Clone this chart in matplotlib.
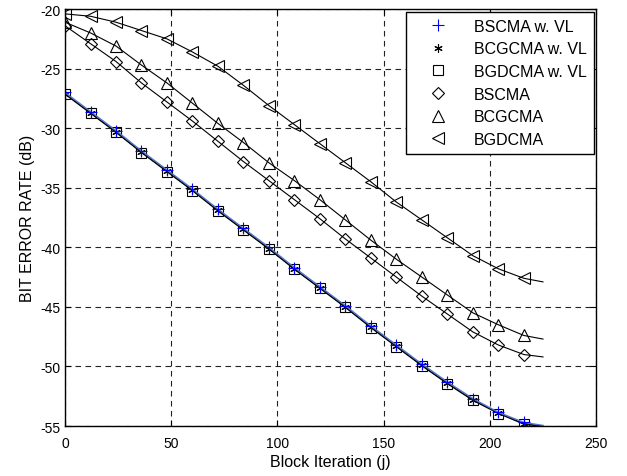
import matplotlib
matplotlib.use("Agg")
import matplotlib.pyplot as plt
from matplotlib.lines import Line2D

plt.rcParams['font.family'] = ['Liberation Sans', 'DejaVu Sans']
plt.rcParams['axes.unicode_minus'] = False

iters = [0, 12, 24, 36, 48, 60, 72, 84, 96, 108, 120, 132, 144, 156, 168, 180, 192, 204, 216, 225]

bscma_vl = [-27.0, -28.6, -30.2, -31.9, -33.5, -35.1, -36.8, -38.4, -40.0, -41.7, -43.3, -44.9, -46.6, -48.2, -49.8, -51.3, -52.7, -53.85, -54.7, -54.95]
bcgcma_vl = [-27.1, -28.7, -30.3, -32.0, -33.6, -35.2, -36.9, -38.5, -40.1, -41.8, -43.4, -45.0, -46.7, -48.3, -49.9, -51.4, -52.8, -53.9, -54.8, -55.0]
bgdcma_vl = [-27.15, -28.75, -30.35, -32.05, -33.65, -35.25, -36.95, -38.55, -40.15, -41.85, -43.45, -45.05, -46.75, -48.35, -49.95, -51.45, -52.85, -53.95, -54.85, -55.05]
bscma = [-21.4, -22.9, -24.4, -26.2, -27.8, -29.4, -31.1, -32.8, -34.4, -36.0, -37.6, -39.3, -40.9, -42.5, -44.1, -45.6, -47.1, -48.2, -49.0, -49.2]
bcgcma = [-21.1, -22.0, -23.1, -24.7, -26.2, -27.9, -29.6, -31.2, -32.9, -34.4, -36.0, -37.7, -39.4, -41.0, -42.5, -44.0, -45.5, -46.5, -47.4, -47.7]
bgdcma = [-20.4, -20.6, -21.1, -21.8, -22.5, -23.6, -24.8, -26.4, -28.1, -29.7, -31.3, -32.9, -34.5, -36.2, -37.7, -39.2, -40.7, -41.8, -42.6, -42.9]

labels = ['BSCMA w. VL', 'BCGCMA w. VL', 'BGDCMA w. VL', 'BSCMA', 'BCGCMA', 'BGDCMA']
xticks = [0, 50, 100, 150, 200, 250]
yticks = [-55, -50, -45, -40, -35, -30, -25, -20]

fig = plt.figure(figsize=(6.27, 4.77), dpi=100)
ax = fig.add_axes([0.1037, 0.1048, 0.847, 0.874])

ast = (6, 2, 0)
mk = slice(0, len(iters) - 1)
series = [
    (bgdcma_vl, 'k', 's', 'none', 7, 'k', 0.8),
    (bcgcma_vl, 'k', ast, 'k', 6, 'k', 0.8),
    (bscma_vl, '#4f74c8', '+', 'b', 9, 'b', 1.0),
    (bscma, 'k', 'D', 'none', 6, 'k', 0.8),
    (bcgcma, 'k', '^', 'none', 8, 'k', 0.8),
    (bgdcma, 'k', '<', 'none', 8, 'k', 0.8),
]
for y, lc, m, mfc, ms, mec, lw in series:
    ax.plot(iters, y, color=lc, lw=lw, marker=m, markevery=mk,
            markerfacecolor=mfc, markeredgecolor=mec, markersize=ms,
            markeredgewidth=0.8)

ax.set_xlim(0, 250)
ax.set_ylim(-55, -20)
ax.set_xticks(xticks)
ax.set_yticks(yticks)
ax.tick_params(direction='in', top=True, right=True, labelsize=10, length=4, width=0.8)
ax.tick_params(axis='x', pad=7)
ax.tick_params(axis='y', pad=3)
ax.grid(True, color='#222222', linestyle=(0, (5, 4)), linewidth=0.8)
for s in ax.spines.values():
    s.set_linewidth(1.0)
ax.set_xlabel('Block Iteration (j)', fontsize=11.5, labelpad=3)
ax.set_ylabel('BIT ERROR RATE (dB)', fontsize=11.5, labelpad=4)

handles = [
    Line2D([], [], ls='none', marker='+', color='b', markersize=9, markeredgewidth=0.8),
    Line2D([], [], ls='none', marker=ast, color='k', markersize=6, markeredgewidth=0.8),
    Line2D([], [], ls='none', marker='s', markerfacecolor='none', markeredgecolor='k', markersize=7, markeredgewidth=0.8),
    Line2D([], [], ls='none', marker='D', markerfacecolor='none', markeredgecolor='k', markersize=6, markeredgewidth=0.8),
    Line2D([], [], ls='none', marker='^', markerfacecolor='none', markeredgecolor='k', markersize=8, markeredgewidth=0.8),
    Line2D([], [], ls='none', marker='<', markerfacecolor='none', markeredgecolor='k', markersize=8, markeredgewidth=0.8),
]
leg = ax.legend(handles, labels, loc='upper right', fontsize=11.5, frameon=True,
                fancybox=False, edgecolor='k', framealpha=1, borderaxespad=0.15,
                handletextpad=0.6, labelspacing=0.48, borderpad=0.45, handlelength=3.2)
leg.get_frame().set_linewidth(1.0)

fig.savefig('out.png', dpi=100)
